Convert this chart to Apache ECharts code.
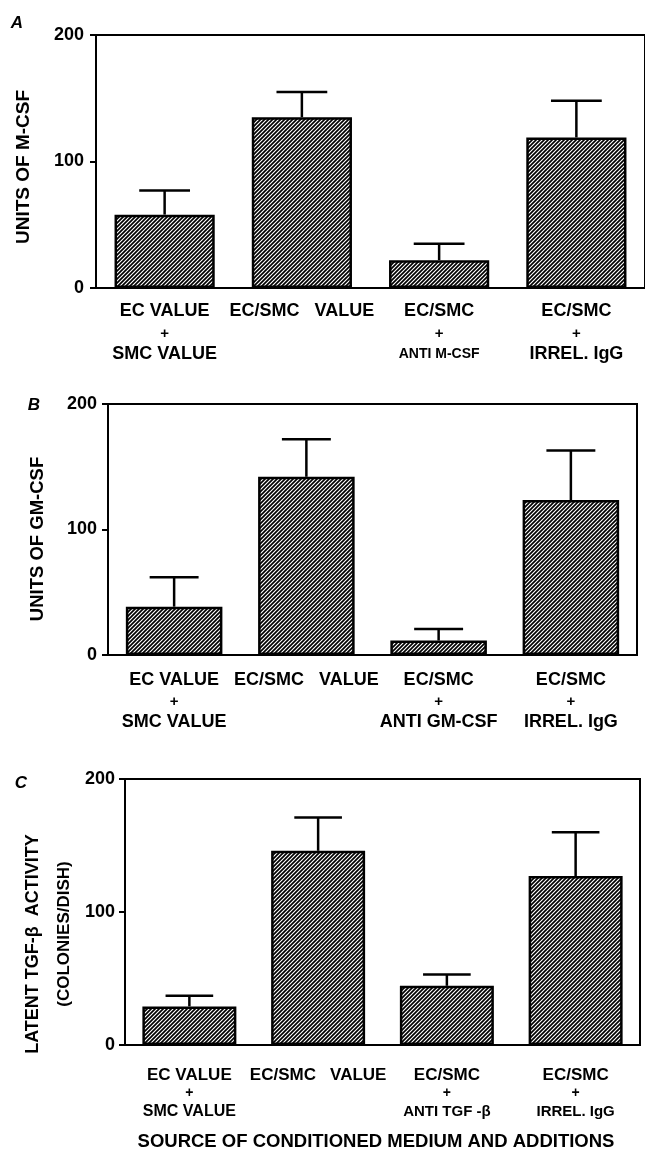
<!DOCTYPE html>
<html>
<head>
<meta charset="utf-8">
<script src="https://cdn.jsdelivr.net/npm/echarts@6/dist/echarts.min.js"></script>
<style>
html,body{margin:0;padding:0;background:#fff;}
#c{width:645px;height:1156px;}
</style>
</head>
<body>
<div id="c"></div>
<script>
// ---- data ----
const categoriesA = ['EC VALUE\n+\nSMC VALUE', 'EC/SMC   VALUE', 'EC/SMC\n+\nANTI M-CSF', 'EC/SMC\n+\nIRREL. IgG'];
const valuesA = [58, 135, 22, 119];
const errorTopA = [77, 155, 35, 148];

const categoriesB = ['EC VALUE\n+\nSMC VALUE', 'EC/SMC   VALUE', 'EC/SMC\n+\nANTI GM-CSF', 'EC/SMC\n+\nIRREL. IgG'];
const valuesB = [38.5, 142, 11.5, 123.5];
const errorTopB = [62, 172, 20.7, 163];

const categoriesC = ['EC VALUE\n+\nSMC VALUE', 'EC/SMC   VALUE', 'EC/SMC\n+\nANTI TGF -β', 'EC/SMC\n+\nIRREL. IgG'];
const valuesC = [29, 146, 44.5, 127];
const errorTopC = [37, 171, 53, 160];

const yTicks = [0, 100, 200];
const panelLetters = ['A', 'B', 'C'];
const yTitleA = 'UNITS OF M-CSF';
const yTitleB = 'UNITS OF GM-CSF';
const yTitleC1 = 'LATENT TGF-β  ACTIVITY';
const yTitleC2 = '(COLONIES/DISH)';
const xTitle = 'SOURCE OF CONDITIONED MEDIUM AND ADDITIONS';

// ---- styling ----
const FONT = '"Liberation Sans", Arial, Helvetica, sans-serif';

function hatchCanvas() {
  const c = document.createElement('canvas');
  c.width = 4; c.height = 4;
  const g = c.getContext('2d');
  g.fillStyle = '#fff';
  g.fillRect(0, 0, 4, 4);
  g.strokeStyle = '#000';
  g.lineWidth = 1.7;
  g.beginPath();
  g.moveTo(-1, 5); g.lineTo(5, -1);
  g.moveTo(-1, 1); g.lineTo(1, -1);
  g.moveTo(3, 5); g.lineTo(5, 3);
  g.stroke();
  return c;
}
const hatch = { image: hatchCanvas(), repeat: 'repeat' };

const grids = [
  { left: 96, top: 35, right: -3, bottom: 1156 - 288 },
  { left: 108, top: 404, right: 8, bottom: 1156 - 655 },
  { left: 125, top: 779, right: 5, bottom: 1156 - 1045 }
];

const labelCfg = [
  { margin: 12, l1: 18, plus: 15, l3: [18, 18, 14, 18], lh: [22, 23, 18], tickMargin: 12 },
  { margin: 14, l1: 18, plus: 15, l3: [18, 18, 18, 18], lh: [22, 21, 21], tickMargin: 11 },
  { margin: 20, l1: 17, plus: 14, l3: [16, 16, 15, 15], lh: [20, 17, 20], tickMargin: 10 }
];

function makeRich(k) {
  const cfg = labelCfg[k];
  const r = {
    l1: { fontFamily: FONT, fontWeight: 'bold', fontSize: cfg.l1, color: '#000', lineHeight: cfg.lh[0] },
    plus: { fontFamily: FONT, fontWeight: 'bold', fontSize: cfg.plus, color: '#000', lineHeight: cfg.lh[1] }
  };
  cfg.l3.forEach((s, i) => {
    r['l3_' + i] = { fontFamily: FONT, fontWeight: 'bold', fontSize: s, color: '#000', lineHeight: cfg.lh[2] };
  });
  return r;
}

function makeFormatter(k) {
  return function (value, index) {
    const lines = value.split('\n');
    return lines.map((ln, j) => {
      const st = j === 0 ? 'l1' : (j === 1 ? 'plus' : 'l3_' + index);
      return '{' + st + '|' + ln + '}';
    }).join('\n');
  };
}

const cats = [categoriesA, categoriesB, categoriesC];
const vals = [valuesA, valuesB, valuesC];
const errs = [errorTopA, errorTopB, errorTopC];

const xAxes = cats.map((c, k) => ({
  type: 'category', gridIndex: k, data: c,
  axisLine: { show: true, lineStyle: { color: '#000', width: 2 } },
  axisTick: { show: false },
  axisLabel: {
    interval: 0, margin: labelCfg[k].margin,
    formatter: makeFormatter(k), rich: makeRich(k)
  },
  splitLine: { show: false }
}));

const yAxes = cats.map((c, k) => ({
  type: 'value', gridIndex: k, min: yTicks[0], max: yTicks[yTicks.length - 1], interval: 100,
  axisLine: { show: true, lineStyle: { color: '#000', width: 2 } },
  axisTick: { show: true, inside: false, length: 6, lineStyle: { color: '#000', width: 2 } },
  axisLabel: { fontFamily: FONT, fontWeight: 'bold', fontSize: 18, color: '#000', margin: labelCfg[k].tickMargin },
  splitLine: { show: false }
}));

function errRender(params, api) {
  const x = api.value(0), v = api.value(1), e = api.value(2);
  const p0 = api.coord([x, v]);
  const p1 = api.coord([x, e]);
  const w = api.size([1, 0])[0] * 0.185;
  const st = { stroke: '#000', lineWidth: 2.5 };
  return {
    type: 'group',
    children: [
      { type: 'line', shape: { x1: p0[0], y1: p0[1], x2: p1[0], y2: p1[1] }, style: st },
      { type: 'line', shape: { x1: p1[0] - w, y1: p1[1], x2: p1[0] + w, y2: p1[1] }, style: st }
    ]
  };
}

const series = [];
vals.forEach((v, k) => {
  series.push({
    type: 'bar', xAxisIndex: k, yAxisIndex: k, data: v, barWidth: '73%',
    itemStyle: { color: hatch, borderColor: '#000', borderWidth: 2.5 },
    silent: true, animation: false
  });
  series.push({
    type: 'custom', xAxisIndex: k, yAxisIndex: k,
    data: v.map((val, i) => [i, val, errs[k][i]]),
    encode: { x: 0, y: [1, 2] },
    renderItem: errRender, z: 3, silent: true, animation: false
  });
});

function txt(text, x, y, size, opts) {
  opts = opts || {};
  return {
    type: 'text', x: x, y: y, rotation: opts.rot || 0,
    style: {
      text: text, fill: '#000',
      font: (opts.italic ? 'italic ' : '') + 'bold ' + size + 'px ' + FONT,
      align: 'center', verticalAlign: 'middle',
      textAlign: 'center', textVerticalAlign: 'middle'
    },
    silent: true
  };
}

const graphic = [
  txt(panelLetters[0], 17, 23, 17, { italic: true }),
  txt(panelLetters[1], 34, 405, 17, { italic: true }),
  txt(panelLetters[2], 21, 783, 17, { italic: true }),
  txt(yTitleA, 24, 167, 19, { rot: Math.PI / 2 }),
  txt(yTitleB, 38, 539, 18.5, { rot: Math.PI / 2 }),
  txt(yTitleC1, 33, 944, 18, { rot: Math.PI / 2 }),
  txt(yTitleC2, 64, 934, 17, { rot: Math.PI / 2 }),
  txt(xTitle, 376, 1142, 18.5)
];

const chart = echarts.init(document.getElementById('c'), null, { renderer: 'canvas' });
chart.setOption({
  animation: false,
  backgroundColor: '#fff',
  grid: grids.map(g => Object.assign({ show: true, borderColor: '#000', borderWidth: 2, backgroundColor: 'transparent', containLabel: false }, g)),
  xAxis: xAxes,
  yAxis: yAxes,
  series: series,
  graphic: graphic
});
</script>
</body>
</html>
